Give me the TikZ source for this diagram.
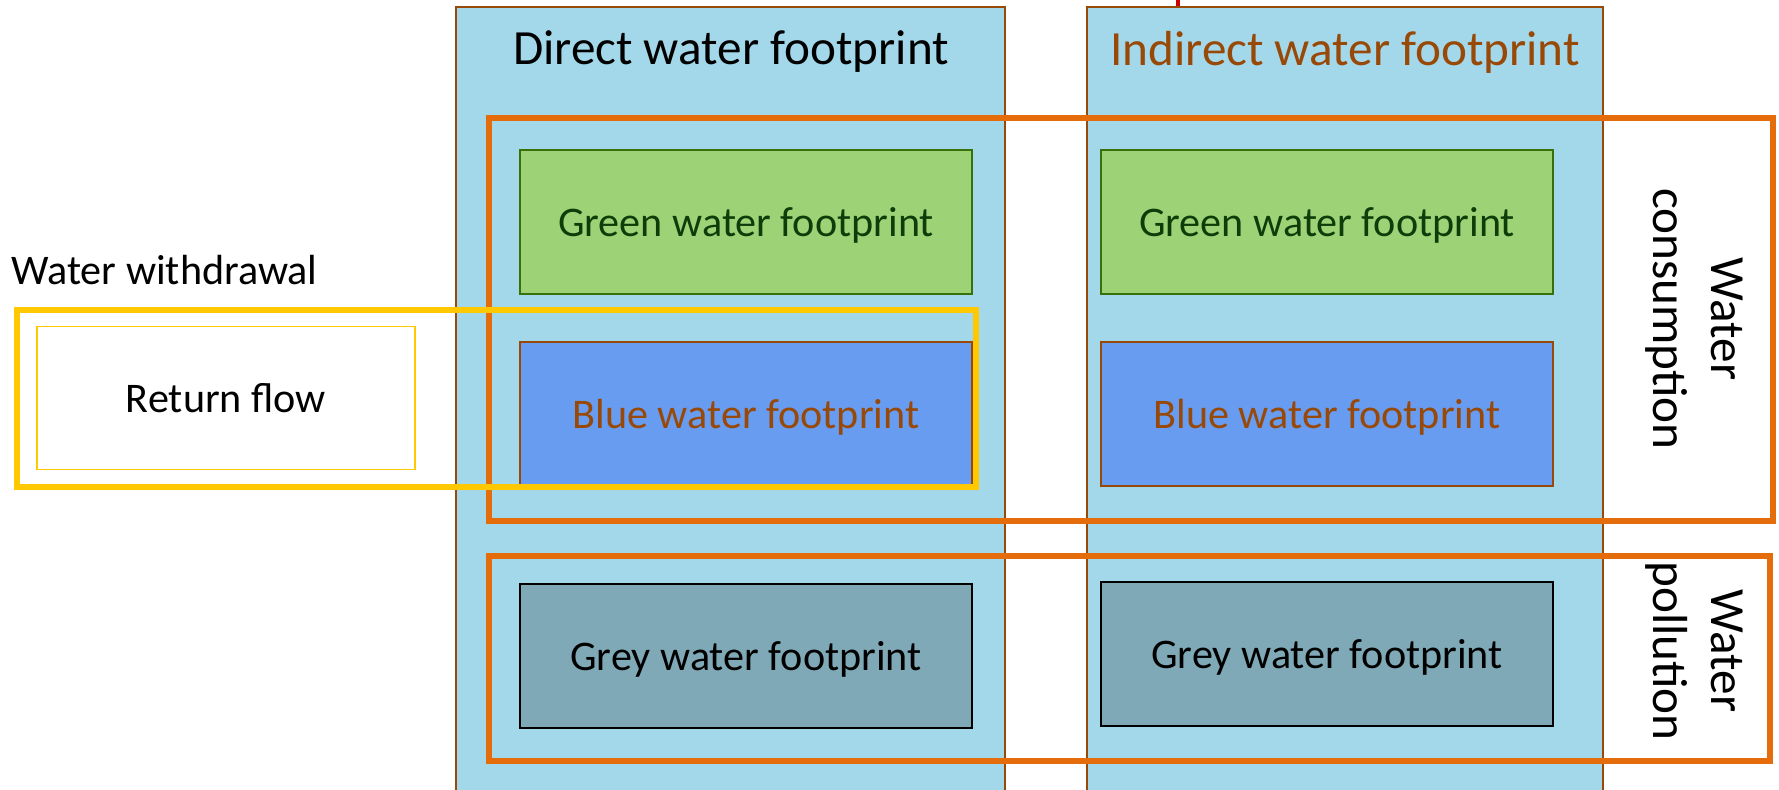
\documentclass[tikz,border=0pt]{standalone}
\usepackage{fontspec}
\setmainfont{Carlito}
\definecolor{wfsky}{HTML}{A3D8EA}
\definecolor{wfbrown}{HTML}{984807}
\definecolor{wforange}{HTML}{E46C0A}
\definecolor{wfyellow}{HTML}{FFC800}
\definecolor{wfgreen}{HTML}{9ED276}
\definecolor{wfgreendraw}{HTML}{38700A}
\definecolor{wfgreentext}{HTML}{0F3D0A}
\definecolor{wfblue}{HTML}{689CF0}
\definecolor{wfgrey}{HTML}{7FA9B7}
\begin{document}
\begin{tikzpicture}[x=0.02cm,y=-0.02cm,
  col/.style={draw=wfbrown,fill=wfsky,line width=1.1pt},
  coltitle/.style={font=\fontsize{28}{34}\selectfont},
  fp/.style={line width=1.2pt,minimum width=9.04cm,minimum height=2.88cm,text height=22pt,text depth=5pt,font=\fontsize{24}{29}\selectfont},
  greenfp/.style={fp,draw=wfgreendraw,fill=wfgreen,text=wfgreentext},
  bluefp/.style={fp,draw=wfbrown,fill=wfblue,text=wfbrown},
  greyfp/.style={fp,draw=black,fill=wfgrey,text=black},
  frame/.style={line width=3.4pt},
  side/.style={rotate=-90,align=center,font=\fontsize{28}{33}\selectfont}]
\useasboundingbox (0,0) rectangle (1779,790);
\draw[red!80!black,line width=2.5pt] (1178,0) -- (1178,7);
\foreach \x/\w in {456/1005,1087/1603} { \draw[col] (\x,7) rectangle (\w,800); }
\node[coltitle] (dtitle) at (731,52) {Direct water footprint};
\node[coltitle,text=wfbrown] (ititle) at (1345,52) {Indirect water footprint};
\foreach \n/\x/\y in {d/746/656,i/1327/654} {
  \node[greenfp] (\n green) at (\x,222) {Green water footprint};
  \node[bluefp] (\n blue) at (\x,414) {Blue water footprint};
  \node[greyfp] (\n grey) at (\x,\y) {Grey water footprint};
}
\draw[frame,wforange] (489,118) rectangle (1773,521);
\draw[frame,wforange] (489,556) rectangle (1770,761);
\node[side] (consumption) at (1694,319) {Water\\consumption};
\node[side] (pollution) at (1694,651) {Water\\pollution};
\draw[frame,wfyellow] (17,310) rectangle (976,487);
\node[draw=wfyellow,line width=1.1pt,minimum width=7.56cm,minimum height=2.86cm,font=\fontsize{24}{29}\selectfont] (return) at (226,398) {Return flow};
\node[anchor=west,inner sep=0pt,font=\fontsize{24}{29}\selectfont] (withdrawal) at (11,270) {Water withdrawal};
\end{tikzpicture}
\end{document}
